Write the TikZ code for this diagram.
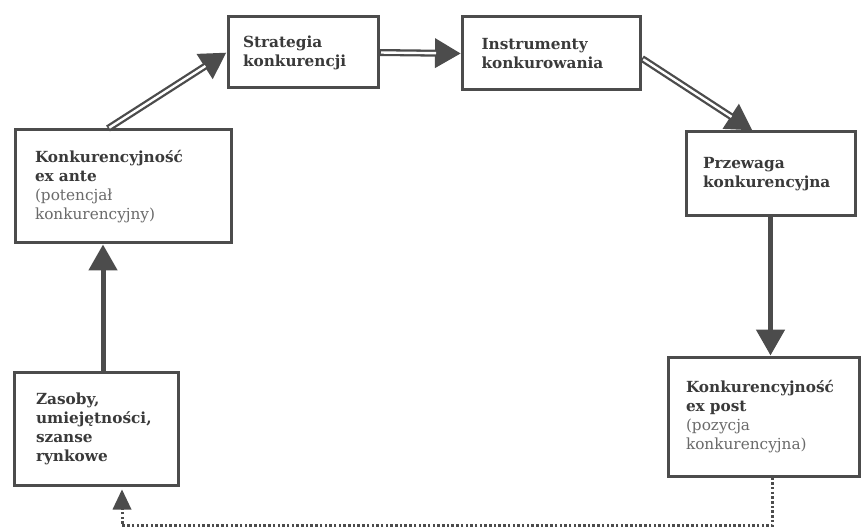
\documentclass[tikz,border=0pt]{standalone}
\usepackage{fontspec}
\setmainfont{DejaVu Serif}
\usetikzlibrary{arrows.meta}
\definecolor{linegray}{HTML}{4C4C4C}
\definecolor{txtdark}{HTML}{3A3A3A}
\definecolor{txtlight}{HTML}{6A6A6A}
\hyphenpenalty=10000

\begin{document}
\begin{tikzpicture}[x=1pt,y=-1pt,
  box/.style={rectangle,draw=linegray,line width=3pt,fill=white,align=left,
    text=txtdark,font=\fontsize{15.3}{19}\selectfont,inner ysep=6pt},
  bigarrow/.style={draw=linegray,line width=5pt,-{Triangle[length=26pt,width=28pt]}},
  wideshaft/.style={bigarrow,line width=7pt},
  gap/.style={white,line width=2.4pt,shorten <=1.5pt,shorten >=25pt},
  dots/.style={draw=linegray,line width=3pt,dash pattern=on 2.5pt off 2.2pt},
  headfill/.style={fill=linegray}]
\useasboundingbox (0,0) rectangle (862,529);
\node at (303,52.5) [box,text width=120pt,inner xsep=15pt,minimum height=71pt] (strategia) {\textbf{Strategia}\\\textbf{konkurencji}};
\node at (551.5,53.5) [box,text width=140pt,inner xsep=19pt,minimum height=73pt] (instrumenty) {\textbf{Instrumenty}\\\textbf{konkurowania}};
\node at (123,186.5) [box,text width=176pt,inner xsep=20pt,minimum height=113pt] (exante) {\textbf{Konkurencyjność}\\\textbf{ex ante}\\\color{txtlight}(potencjał\\konkurencyjny)};
\node at (770.5,174) [box,text width=135pt,inner xsep=17pt,minimum height=84pt] (przewaga) {\textbf{Przewaga}\\\textbf{konkurencyjna}};
\node at (96,428.5) [box,text width=120pt,inner xsep=22pt,minimum height=113pt] (zasoby) {\textbf{Zasoby,}\\\textbf{umiejętności,}\\\textbf{szanse}\\\textbf{rynkowe}};
\node at (763.5,416.5) [box,text width=155pt,inner xsep=18pt,minimum height=119pt] (expost) {\textbf{Konkurencyjność}\\\textbf{ex post}\\\color{txtlight}(pozycja\\konkurencyjna)};

\draw[wideshaft] ([xshift=-15pt]exante.north) -- (strategia.west);
\draw[gap] ([xshift=-15pt]exante.north) -- (strategia.west);
\draw[wideshaft] (strategia.east) -- (instrumenty.west);
\draw[gap] (strategia.east) -- (instrumenty.west);
\draw[wideshaft] ([yshift=-5pt]instrumenty.east) -- ([xshift=-18pt]przewaga.north);
\draw[gap] ([yshift=-5pt]instrumenty.east) -- ([xshift=-18pt]przewaga.north);
\draw[bigarrow] (przewaga.south) -- (przewaga.south |- expost.north);
\draw[bigarrow] ([xshift=7pt]zasoby.north) -- ([xshift=7pt]zasoby.north |- exante.south);
% dotted feedback loop, head drawn as a filled triangle
\draw[dots] ([xshift=9pt]expost.south) -- ++(0,48) -| ([xshift=26pt,yshift=-21pt]zasoby.south);
\fill[headfill] ([xshift=26pt,yshift=-3pt]zasoby.south) -- ++(-9.5,20) -- ++(19,0) -- cycle;
\end{tikzpicture}
\end{document}
